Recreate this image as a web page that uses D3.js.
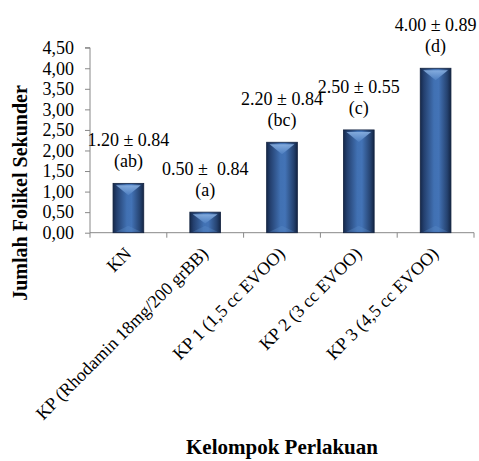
<!DOCTYPE html>
<html><head><meta charset="utf-8">
<script src="https://cdn.jsdelivr.net/npm/d3@7"></script>
<style>
html,body{margin:0;padding:0;background:#fff;}
svg text{font-family:"Liberation Serif","Times New Roman",serif;}
</style></head>
<body>
<script>
const categories = ["KN","KP (Rhodamin 18mg/200 grBB)","KP 1 (1,5 cc EVOO)","KP 2 (3 cc EVOO)","KP 3 (4,5 cc EVOO)"];
const values = [1.20, 0.50, 2.20, 2.50, 4.00];
const sdLabels = ["1.20 \u00b1 0.84","0.50 \u00b1  0.84","2.20 \u00b1 0.84","2.50 \u00b1 0.55","4.00 \u00b1 0.89"];
const letters = ["(ab)","(a)","(bc)","(c)","(d)"];
const yTicks = [0,0.5,1,1.5,2,2.5,3,3.5,4,4.5];
const yTitle = "Jumlah Folikel Sekunder";
const xTitle = "Kelompok Perlakuan";

const W = 479, H = 461;
const svg = d3.select("body").append("svg").attr("width", W).attr("height", H);

const defs = svg.append("defs");
const g1 = defs.append("linearGradient").attr("id","barGrad").attr("x1","0").attr("x2","1").attr("y1","0").attr("y2","0");
[["0%","#15284a"],["12%","#24406f"],["45%","#4171b3"],["60%","#4373b6"],["88%","#25426f"],["100%","#132544"]]
  .forEach(s => g1.append("stop").attr("offset", s[0]).attr("stop-color", s[1]));
const g2 = defs.append("linearGradient").attr("id","bevGrad").attr("x1","0").attr("x2","0").attr("y1","0").attr("y2","1");
g2.append("stop").attr("offset","0%").attr("stop-color","#8fb6e6");
g2.append("stop").attr("offset","100%").attr("stop-color","#4f80c2");

const x = d3.scaleBand().domain(categories).range([90, 474]).paddingInner(0.6).paddingOuter(0.3);
const y = d3.scaleLinear().domain([0, 4.5]).range([232.7, 47.7]);

// y axis
const yAxis = svg.append("g").attr("transform","translate(90,0)")
  .call(d3.axisLeft(y).tickValues(yTicks).tickSize(5).tickFormat(d => d3.format(".2f")(d).replace(".", ",")));
yAxis.select(".domain").attr("stroke","#888").attr("d","M-5,47.7H0V232.7");
yAxis.selectAll(".tick line").attr("stroke","#888");
yAxis.selectAll(".tick text").attr("font-size","18px").attr("fill","#000").attr("x",-16)
  .attr("font-family","Liberation Serif");

// x axis line and boundary ticks
const step = x.step();
const bounds = d3.range(categories.length + 1).map(i => 90 + i * step);
svg.append("line").attr("x1",90).attr("x2",474).attr("y1",y(0)).attr("y2",y(0)).attr("stroke","#888");
svg.selectAll(".bt").data(bounds).enter().append("line")
  .attr("x1", d => d).attr("x2", d => d).attr("y1", y(0)).attr("y2", y(0) + 5).attr("stroke","#888");

// bars
const bars = svg.selectAll(".bar").data(values).enter().append("g");
bars.append("rect")
  .attr("x", (d,i) => x(categories[i])).attr("width", x.bandwidth())
  .attr("y", d => y(d)).attr("height", d => y(0) - y(d))
  .attr("fill","url(#barGrad)").attr("stroke","#13223f").attr("stroke-width",0.8);
bars.append("path").attr("fill","url(#bevGrad)").attr("opacity",0.85)
  .attr("d", (d,i) => {
    const x0 = x(categories[i]), w = x.bandwidth(), t = y(d);
    const bh = Math.min(10, (y(0) - t) * 0.45);
    return `M${x0+3},${t+2}L${x0+w-3},${t+2}L${x0+w/2},${t+2+bh}Z`;
  });
bars.append("path").attr("fill","#5d8cc8").attr("opacity",0.35)
  .attr("d", (d,i) => {
    const x0 = x(categories[i]), w = x.bandwidth(), b = y(0);
    return `M${x0+3},${b-1}L${x0+w-3},${b-1}L${x0+w/2},${b-7}Z`;
  });

// data labels
const lab = svg.selectAll(".lab").data(values).enter().append("g");
lab.append("text").attr("x", (d,i) => x(categories[i]) + x.bandwidth()/2).attr("y", d => y(d) - 37)
  .attr("text-anchor","middle").attr("font-size","18px").style("white-space","pre")
  .text((d,i) => sdLabels[i]);
lab.append("text").attr("x", (d,i) => x(categories[i]) + x.bandwidth()/2).attr("y", d => y(d) - 16)
  .attr("text-anchor","middle").attr("font-size","18px")
  .text((d,i) => letters[i]);

// category labels
svg.selectAll(".cl").data(categories).enter().append("text")
  .attr("transform", d => `translate(${x(d) + x.bandwidth()/2 + 4},${y(0) + 22}) rotate(-45)`)
  .attr("text-anchor","end").attr("font-size","18px").text(d => d);

// titles
svg.append("text").attr("transform", "translate(27,193) rotate(-90)")
  .attr("text-anchor","middle").attr("font-size","20px").attr("font-weight","bold").text(yTitle);
svg.append("text").attr("x", 282).attr("y", 454)
  .attr("text-anchor","middle").attr("font-size","21px").attr("font-weight","bold").text(xTitle);
</script>
</body></html>
